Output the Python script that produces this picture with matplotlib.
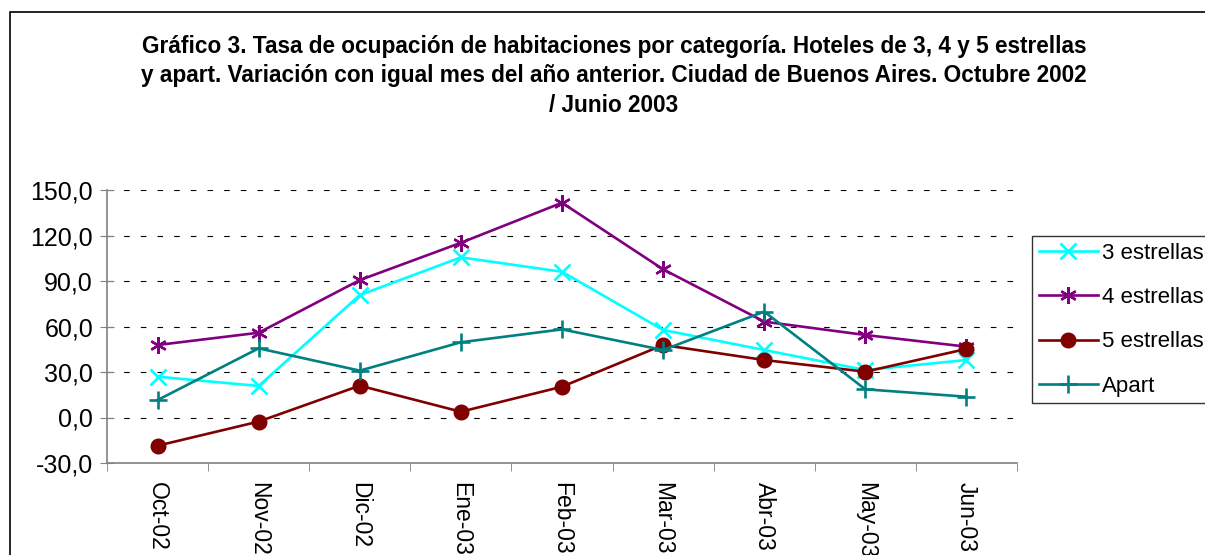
import numpy as np
import matplotlib
matplotlib.use('Agg')
import matplotlib.pyplot as plt
from matplotlib.patches import Rectangle

plt.rcParams['font.family'] = ['Liberation Sans', 'DejaVu Sans']

meses = ['Oct-02', 'Nov-02', 'Dic-02', 'Ene-03', 'Feb-03', 'Mar-03', 'Abr-03', 'May-03', 'Jun-03']
tres_estrellas = [26.9, 20.8, 80.7, 105.6, 96.1, 57.7, 44.5, 31.3, 37.9]
cuatro_estrellas = [47.8, 55.9, 90.6, 115.2, 141.6, 97.7, 63.2, 54.4, 46.7]
cinco_estrellas = [-18.6, -2.7, 21.0, 3.8, 20.3, 47.8, 37.9, 30.2, 45.2]
apart = [11.5, 45.6, 30.9, 49.6, 58.1, 44.5, 69.8, 18.6, 13.7]
yticks = [-30, 0, 30, 60, 90, 120, 150]

fig = plt.figure(figsize=(12.05, 5.55), dpi=100)
ax = fig.add_axes([107/1205, 1-463/555, (1017-107)/1205, (463-190)/555])

x = np.arange(len(meses))
lw = 1.9
ax.plot(x, tres_estrellas, color='#00FFFF', lw=lw, marker='x', ms=11, mew=1.9, label='3 estrellas')
ax.plot(x, cuatro_estrellas, color='#800080', lw=lw, marker=(6, 2, 0), ms=12, mew=1.7, label='4 estrellas')
ax.plot(x, cinco_estrellas, color='#800000', lw=lw, marker='o', ms=10.5, label='5 estrellas')
ax.plot(x, apart, color='#008080', lw=lw, marker='+', ms=13, mew=1.9, label='Apart')

ax.set_xlim(-0.5, len(meses) - 0.5)
ax.set_ylim(-30, 150)
ax.set_yticks(yticks)
ax.set_yticklabels([('%.1f' % v).replace('.', ',') for v in yticks], fontsize=18)
for v in yticks[1:]:
    ax.axhline(v, color='black', lw=0.8, ls=(0, (5, 10)), zorder=0)

ax.set_xticks(x)
ax.set_xticklabels(meses, rotation=-90, fontsize=16.5, va='top')
ax.set_xticks(np.arange(-0.5, len(meses)), minor=True)
ax.tick_params(axis='x', which='major', length=0, pad=14)
ax.tick_params(axis='x', which='minor', length=6, direction='out', color='#808080')
ax.tick_params(axis='y', length=10, direction='inout', color='#808080', pad=5)

for s in ['top', 'right']:
    ax.spines[s].set_visible(False)
for s in ['left', 'bottom']:
    ax.spines[s].set_color('#808080')
    ax.spines[s].set_linewidth(1.2)

fig.text(614/1205, 1-35/555,
         'Gráfico 3. Tasa de ocupación de habitaciones por categoría. Hoteles de 3, 4 y 5 estrellas\n'
         'y apart. Variación con igual mes del año anterior. Ciudad de Buenos Aires. Octubre 2002\n'
         '/ Junio 2003',
         ha='center', va='top', fontsize=16.3, fontweight='bold', linespacing=1.35)

leg = fig.legend(loc='upper left', bbox_to_anchor=(1032/1205, 1-236/555), fontsize=16,
                 frameon=True, fancybox=False, edgecolor='black', handlelength=2.65,
                 labelspacing=1.05, borderaxespad=0, handletextpad=0.2, borderpad=0.3)
leg.get_frame().set_linewidth(1.0)

fig.patches.append(Rectangle((10/1205, -0.1), 1.2, 1.1 - 12/555, transform=fig.transFigure,
                             fill=False, edgecolor='black', lw=1.2))

fig.savefig('out.png', dpi=100)
